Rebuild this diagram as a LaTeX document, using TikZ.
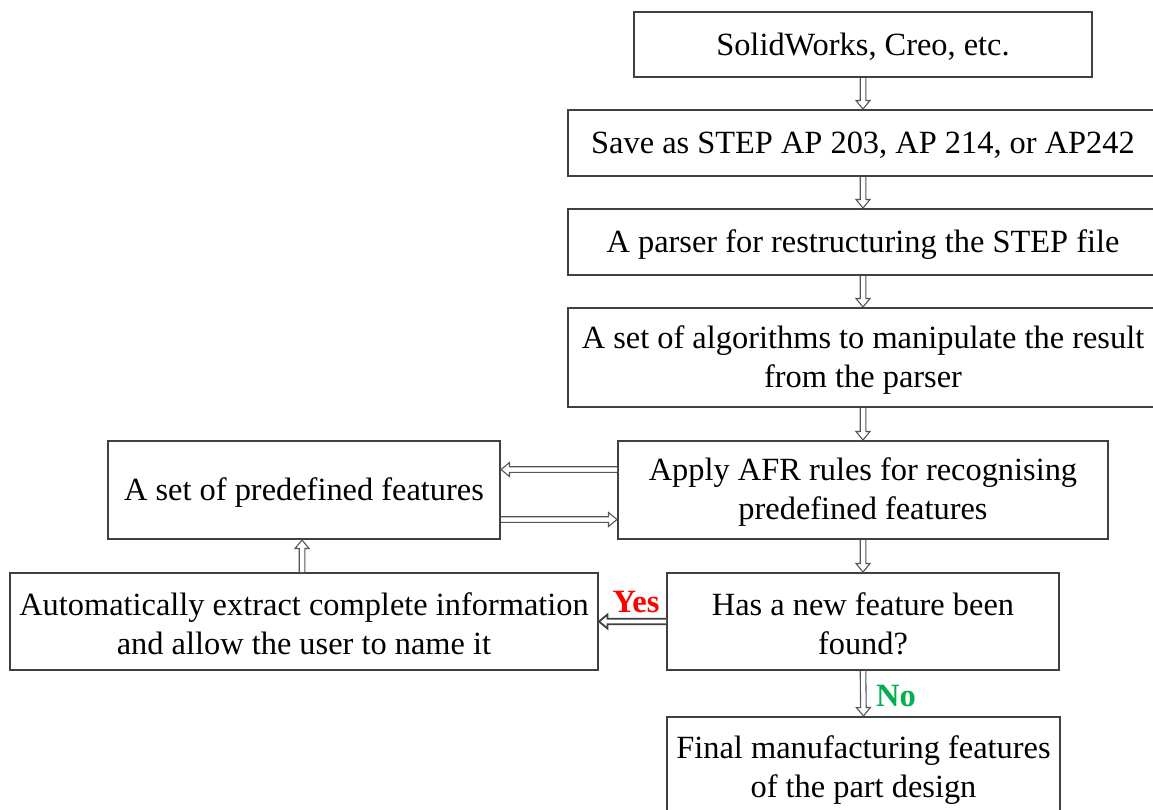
\documentclass[tikz,border=0pt]{standalone}
\usepackage{fontspec}
\setmainfont{Liberation Serif}
\usetikzlibrary{calc}
\definecolor{boxline}{HTML}{404040}
\definecolor{arrline}{HTML}{555555}
\definecolor{yesred}{HTML}{FF0000}
\definecolor{nogreen}{HTML}{00B050}
\tikzset{
  fbox/.style={draw=boxline, line width=2pt, inner sep=0pt},
  ftext/.style={inner sep=0pt, align=center, font=\fontsize{32.4}{39}\selectfont},
  arrowline/.style={draw=arrline, line width=1.1pt, fill=white, line join=miter},
  yesnolabel/.style={font=\fontsize{32.5}{34}\selectfont\bfseries, inner sep=0pt}
}
\newcommand\hollowarr[3][]{%
  \coordinate (ha-s) at (#2);
  \coordinate (ha-e) at (#3);
  \coordinate (ha-b) at ($(ha-e)!8.5pt!(ha-s)$);
  \filldraw[arrowline,#1] ($(ha-s)!2.8pt!90:(ha-e)$) -- ($(ha-b)!2.8pt!-90:(ha-s)$)
    -- ($(ha-b)!7pt!-90:(ha-s)$) -- (ha-e) -- ($(ha-b)!7pt!90:(ha-s)$)
    -- ($(ha-b)!2.8pt!90:(ha-s)$) -- ($(ha-s)!2.8pt!-90:(ha-e)$);
}
\newcommand\mkbox[6]{% name x1 y1 x2 y2 text
  \node[fbox, minimum width={#4-#2}, minimum height={#5-#3}] (#1)
    at ({(#2+#4)/2},{(#3+#5)/2}) {};
  \node[ftext, yshift=-2.5pt] (#1-t) at (#1.center) {#6};
}
\begin{document}
\begin{tikzpicture}[x=1pt,y=-1pt]
\useasboundingbox (0,0) rectangle (1153,809);
\clip (0,0) rectangle (1153,809);
\mkbox{cad}{634}{12}{1092}{77}{SolidWorks, Creo, etc.}
\mkbox{save}{568}{110}{1158}{176}{Save as STEP AP 203, AP 214, or AP242}
\mkbox{parser}{568}{209}{1158}{275}{A parser for restructuring the STEP file}
\mkbox{algo}{568}{308}{1158}{407}{A set of algorithms to manipulate the result\\from the parser}
\mkbox{afr}{618}{441}{1108}{539}{Apply AFR rules for recognising\\predefined features}
\mkbox{predef}{108}{441}{500}{539}{A set of predefined features}
\mkbox{newf}{667}{573}{1059}{670}{Has a new feature been\\found?}
\mkbox{extract}{10}{573}{598}{670}{Automatically extract complete information\\and allow the user to name it}
\node[fbox, minimum width=393, minimum height=143] (final) at (863.5,788.5) {};
\node[ftext] (final-t) at (863.5,770) {Final manufacturing features\\of the part design};
\hollowarr{cad.south}{save.north}
\hollowarr{save.south}{parser.north}
\hollowarr{parser.south}{algo.north}
\hollowarr{algo.south -| afr.north}{afr.north}
\hollowarr{afr.south}{newf.north}
\hollowarr{newf.south}{final.north}
\hollowarr{afr.west |- 0,469.5}{predef.east |- 0,469.5}
\hollowarr{predef.east |- 0,519.5}{afr.west |- 0,519.5}
\hollowarr{extract.north -| 302,0}{predef.south -| 302,0}
\hollowarr[line width=1.8pt, draw=boxline]{newf.west |- 0,621.5}{extract.east |- 0,621.5}
\node[yesnolabel, text=yesred] (yes) at (636,602) {Yes};
\node[yesnolabel, text=nogreen] (no) at (896,696) {No};
\end{tikzpicture}
\end{document}
